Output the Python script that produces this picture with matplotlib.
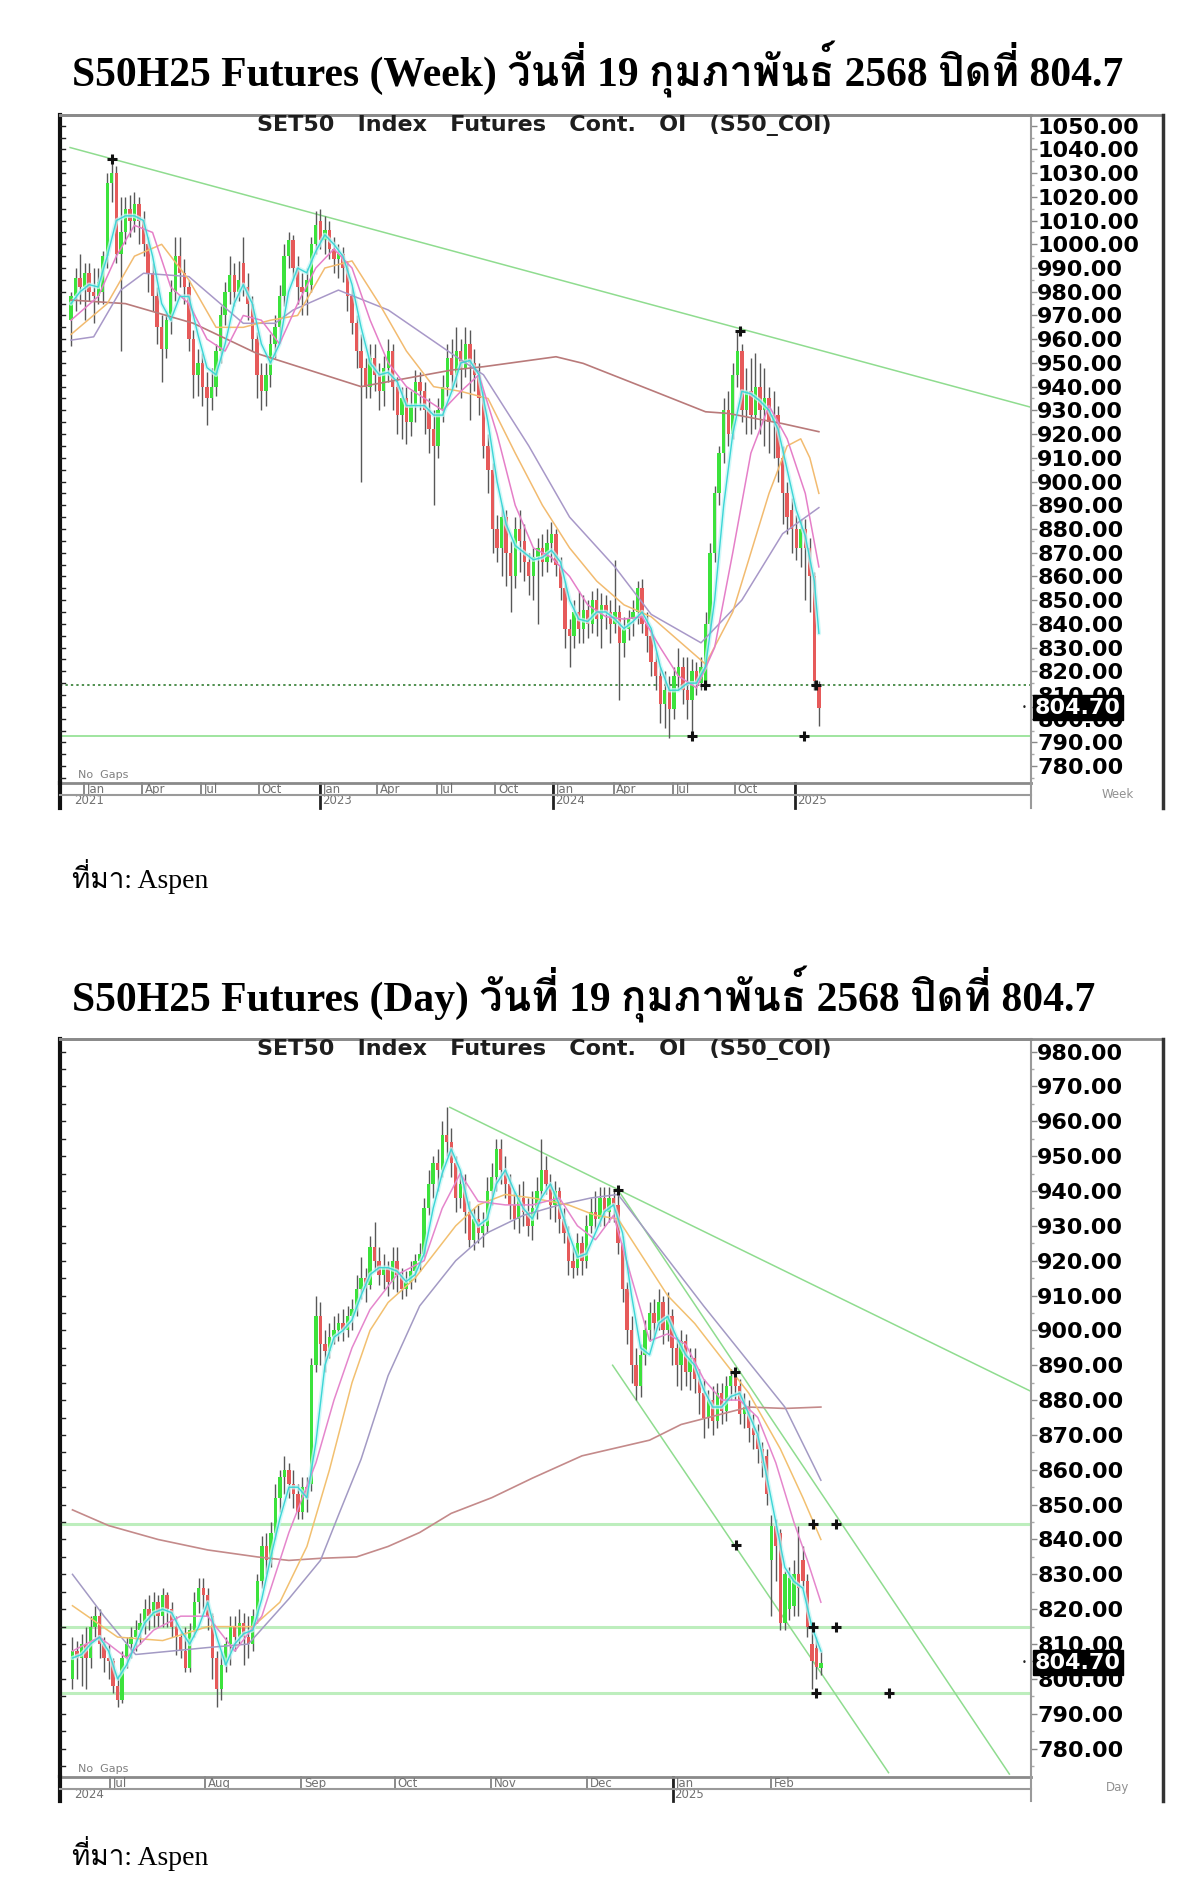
import matplotlib
matplotlib.use("Agg")
import matplotlib.pyplot as plt
from matplotlib import font_manager
from matplotlib.lines import Line2D
from matplotlib.ticker import MultipleLocator
from matplotlib.transforms import blended_transform_factory as blend
import numpy as np

# ======================= DATA =======================
TITLE_WEEK = "S50H25 Futures (Week) วันที่ 19 กุมภาพันธ์ 2568 ปิดที่ 804.7"
TITLE_DAY = "S50H25 Futures (Day) วันที่ 19 กุมภาพันธ์ 2568 ปิดที่ 804.7"
SOURCE = "ที่มา: Aspen"
INNER_TITLE = "SET50   Index   Futures   Cont.   OI   (S50_COI)"
LAST_PRICE = 804.70

# ---- weekly candles (index 0..165) ----
W_OPEN = [968, 978, 986, 982, 988, 980, 978, 980, 995, 1026,
          1030, 996, 1005, 1015, 1010, 1017, 1010, 1000, 988, 978,
          965, 956, 968, 980, 995, 988, 982, 960, 945, 950,
          940, 935, 940, 955, 970, 980, 987, 980, 992, 982,
          975, 960, 945, 938, 945, 958, 965, 978, 995, 1002,
          990, 982, 980, 983, 1000, 1010, 1002, 1006, 998, 994,
          996, 990, 978, 967, 955, 948, 940, 952, 945, 938,
          948, 955, 940, 928, 935, 925, 932, 942, 938, 930,
          922, 915, 930, 940, 952, 945, 955, 948, 958, 950,
          945, 935, 915, 905, 880, 872, 885, 870, 860, 880,
          875, 866, 860, 868, 872, 866, 874, 878, 865, 855,
          838, 835, 845, 838, 846, 840, 850, 842, 848, 845,
          840, 845, 832, 838, 842, 845, 855, 840, 835, 824,
          818, 806, 812, 804, 818, 822, 812, 808, 820, 815,
          816, 840, 870, 895, 912, 930, 920, 945, 955, 930,
          938, 928, 940, 930, 935, 925, 928, 910, 895, 888,
          880, 872, 880, 872, 860, 814]
W_HIGH = [980, 990, 996, 992, 992, 990, 990, 997, 1030, 1036,
          1033, 1020, 1020, 1021, 1022, 1020, 1014, 1003, 992, 982,
          970, 972, 985, 1003, 1003, 994, 985, 964, 956, 954,
          946, 948, 958, 974, 984, 995, 992, 993, 1003, 988,
          978, 963, 950, 950, 962, 970, 983, 1000, 1005, 1004,
          995, 988, 990, 1003, 1014, 1015, 1012, 1010, 1003, 1000,
          999, 993, 982, 970, 962, 952, 958, 958, 950, 953,
          960, 958, 944, 940, 940, 938, 947, 946, 942, 935,
          930, 935, 945, 958, 960, 965, 960, 965, 964, 956,
          950, 938, 920, 908, 886, 890, 888, 875, 885, 888,
          882, 870, 872, 876, 878, 880, 883, 880, 868, 858,
          842, 850, 854, 852, 850, 854, 855, 853, 852, 850,
          867, 848, 843, 846, 850, 858, 859, 845, 838, 828,
          822, 820, 818, 822, 830, 826, 826, 825, 824, 826,
          845, 874, 898, 915, 935, 938, 950, 963.5, 958, 948,
          952, 954, 950, 948, 940, 938, 932, 915, 900, 893,
          886, 884, 884, 876, 862, 816]
W_LOW = [957, 972, 975, 968, 976, 967, 975, 975, 990, 1018,
         992, 955, 1000, 1003, 1005, 1000, 995, 980, 972, 958,
         942, 952, 962, 976, 982, 975, 955, 935, 936, 932,
         924, 930, 936, 950, 966, 975, 974, 976, 978, 968,
         955, 935, 930, 932, 940, 952, 960, 974, 990, 985,
         975, 970, 970, 980, 996, 998, 996, 994, 988, 986,
         984, 972, 962, 948, 900, 935, 935, 938, 930, 932,
         942, 930, 920, 918, 916, 919, 925, 930, 920, 912,
         890, 910, 925, 936, 938, 940, 935, 944, 926, 938,
         928, 910, 895, 870, 866, 860, 856, 845, 855, 862,
         858, 852, 850, 840, 860, 862, 866, 860, 850, 830,
         822, 830, 832, 832, 834, 836, 835, 830, 838, 832,
         836, 808, 826, 833, 835, 840, 836, 828, 818, 812,
         798, 796, 792, 800, 812, 806, 800, 793, 810, 812,
         814, 836, 866, 890, 908, 915, 918, 940, 925, 920,
         920, 922, 920, 915, 912, 910, 900, 882, 878, 870,
         867, 864, 850, 845, 812, 797]
W_CLOSE = [978, 986, 982, 988, 980, 978, 984, 995, 1026, 1030,
           996, 1005, 1015, 1010, 1017, 1010, 1000, 988, 978, 965,
           956, 968, 980, 995, 988, 982, 960, 945, 950, 940,
           935, 940, 955, 970, 980, 987, 980, 985, 982, 975,
           960, 945, 938, 945, 958, 965, 978, 995, 1002, 990,
           982, 980, 985, 1000, 1008, 1002, 1006, 998, 994, 996,
           990, 978, 967, 955, 948, 940, 952, 945, 938, 948,
           955, 940, 928, 935, 925, 932, 942, 938, 930, 922,
           915, 930, 940, 952, 945, 955, 948, 958, 950, 945,
           935, 915, 905, 880, 872, 885, 870, 860, 880, 875,
           866, 860, 868, 872, 866, 874, 878, 865, 855, 838,
           835, 845, 838, 846, 840, 850, 842, 848, 845, 840,
           845, 832, 838, 842, 845, 855, 840, 835, 824, 818,
           806, 812, 804, 818, 822, 812, 808, 820, 815, 822,
           840, 870, 895, 912, 930, 920, 945, 955, 930, 938,
           928, 940, 930, 935, 925, 928, 910, 895, 885, 880,
           872, 880, 872, 860, 816, 804.7]

# weekly moving averages (read at sampled candle positions)
W_CYAN_X = [0, 2, 4, 6, 8, 10, 12, 14, 16, 18, 20, 22, 24, 26, 28, 30, 32, 34, 36, 38, 40,
            42, 44, 46, 48, 50, 52, 54, 56, 58, 60, 62, 64, 66, 68, 70, 72, 74, 76, 78, 80,
            82, 84, 86, 88, 90, 92, 94, 96, 98, 100, 102, 104, 106, 108, 110, 112, 114, 116,
            118, 120, 122, 124, 126, 128, 130, 132, 134, 136, 138, 140, 142, 144, 146, 148,
            150, 152, 154, 156, 158, 160, 162, 164, 165]
W_CYAN_Y = [975, 980, 983, 982, 995, 1010, 1012, 1012, 1010, 995, 975, 968, 978, 978, 962,
            948, 945, 958, 975, 983, 975, 958, 950, 958, 980, 990, 988, 997, 1004, 1000, 995,
            983, 965, 950, 945, 946, 942, 932, 932, 932, 928, 928, 938, 950, 951, 945, 925,
            900, 882, 873, 870, 867, 868, 871, 866, 850, 842, 841, 845, 845, 842, 838, 841,
            845, 838, 822, 812, 812, 815, 815, 822, 850, 890, 920, 938, 937, 934, 930, 922,
            905, 888, 877, 858, 836]
W_PINK_X = [0, 6, 10, 14, 18, 22, 26, 30, 34, 38, 42, 46, 50, 54, 58, 62, 66, 70, 74, 78,
            82, 86, 90, 94, 98, 102, 106, 110, 114, 118, 122, 126, 130, 134, 138, 142, 146,
            150, 154, 158, 162, 165]
W_PINK_Y = [968, 978, 995, 1008, 1005, 982, 975, 960, 955, 970, 968, 958, 975, 990, 998,
            990, 968, 950, 940, 935, 930, 938, 945, 920, 890, 872, 868, 860, 848, 843, 842,
            843, 830, 818, 813, 830, 870, 912, 932, 918, 895, 864]
W_ORANGE_X = [0, 8, 14, 20, 26, 32, 38, 44, 50, 56, 62, 68, 74, 80, 86, 92, 98, 104, 110,
              116, 122, 128, 134, 140, 146, 150, 154, 158, 161, 163, 165]
W_ORANGE_Y = [962, 975, 995, 1000, 985, 965, 965, 968, 970, 990, 993, 975, 955, 940, 938,
              935, 912, 890, 872, 858, 848, 843, 833, 823, 845, 870, 895, 915, 918, 910, 895]
W_PURPLE_X = [0, 5, 11, 16, 26, 38, 45, 49, 59, 70, 85, 91, 101, 110, 120, 128, 139, 148,
              157, 165]
W_PURPLE_Y = [959.6, 961, 980.7, 987.8, 986.4, 966.7, 966.7, 972.3, 980.7, 972.3, 952.6,
              945, 915, 885, 864, 844, 832, 850, 878, 889]
W_BROWN_X = [0, 12, 27, 41, 64, 84, 91, 107, 113, 128, 140, 145, 157, 165]
W_BROWN_Y = [976.5, 975, 966.7, 954, 940, 947, 948.4, 952.6, 949.8, 938.5, 929.4, 928.7,
             924.4, 921]

W_TREND_X = [-0.2, 211.8]
W_TREND_Y = [1040.8, 931.3]
W_DOTTED_LEVEL = 814.2
W_SUPPORT_LEVEL = 792.7
W_MARK_X = [9.1, 147.6, 136.9, 161.7, 139.9, 164.3]
W_MARK_Y = [1036, 963.4, 792.7, 792.7, 814.2, 814.2]

W_TICK_POS = [2.9, 15.7, 28.7, 41.5, 54.9, 67.5, 80.7, 93.6, 106.4, 119.7, 132.8, 146.5, 159.8]
W_TICK_LAB = ["Jan", "Apr", "Jul", "Oct", "Jan", "Apr", "Jul", "Oct", "Jan", "Apr", "Jul", "Oct", ""]
W_YEAR_POS = [0.2, 54.9, 106.4, 159.8]
W_YEAR_LAB = ["2021", "2023", "2024", "2025"]
W_YTICKS = list(range(780, 1051, 10))

# ---- daily candles (index 0..166) ----
D_OPEN = [800, 808, 806, 810, 806, 815, 818, 810, 806, 805,
          798, 794, 806, 810, 812, 814, 816, 820, 818, 822,
          818, 824, 820, 815, 812, 808, 803, 814, 822, 826,
          824, 818, 806, 797, 804, 810, 815, 812, 816, 812,
          810, 818, 828, 838, 834, 842, 852, 858, 860, 856,
          853, 848, 855, 856, 890, 904, 896, 894, 898, 900,
          902, 900, 904, 906, 912, 915, 913, 924, 920, 916,
          918, 914, 920, 916, 912, 914, 917, 920, 922, 935,
          942, 948, 946, 956, 954, 948, 938, 942, 934, 926,
          932, 928, 930, 940, 944, 952, 946, 942, 936, 932,
          938, 934, 930, 935, 940, 946, 942, 936, 940, 932,
          928, 920, 918, 925, 920, 930, 934, 932, 938, 934,
          938, 936, 925, 912, 900, 890, 884, 893, 900, 905,
          902, 908, 900, 904, 895, 890, 897, 888, 892, 886,
          882, 875, 880, 874, 882, 877, 884, 887, 884, 876,
          878, 872, 870, 866, 864, 834, 844, 842, 816, 820,
          821, 830, 834, 828, 810, 809, 803]
D_HIGH = [812, 811, 813, 815, 818, 821, 820, 812, 810, 806,
          801, 808, 812, 815, 817, 819, 823, 824, 825, 824,
          826, 825, 822, 818, 814, 815, 816, 825, 829, 829,
          826, 819, 808, 808, 812, 818, 818, 820, 819, 818,
          820, 830, 841, 842, 845, 856, 860, 864, 862, 860,
          856, 858, 858, 892, 910, 908, 900, 902, 904, 905,
          906, 907, 909, 916, 921, 918, 927, 931, 924, 922,
          920, 924, 924, 918, 917, 920, 922, 925, 938, 946,
          950, 952, 960, 964, 958, 950, 946, 945, 937, 935,
          936, 934, 944, 948, 955, 955, 950, 945, 940, 942,
          943, 938, 940, 944, 955, 950, 945, 943, 941, 935,
          930, 924, 928, 927, 933, 938, 940, 941, 941, 941,
          940, 940, 927, 914, 904, 895, 896, 903, 908, 909,
          912, 910, 911, 906, 898, 900, 899, 895, 895, 889,
          886, 883, 884, 885, 885, 887, 889, 888.5, 886, 882,
          880, 876, 873, 868, 866, 847, 846, 843, 831, 832,
          834, 844, 838, 830, 815, 812, 808]
D_LOW = [797, 800, 798, 797, 803, 812, 806, 802, 800, 796,
         792, 793, 803, 806, 808, 810, 813, 814, 815, 815,
         815, 815, 812, 807, 806, 802, 802, 812, 819, 820,
         814, 800, 792, 794, 802, 804, 808, 810, 804, 806,
         808, 816, 826, 830, 832, 840, 848, 853, 852, 849,
         846, 846, 848, 854, 888, 890, 888, 892, 896, 897,
         897, 898, 900, 904, 909, 908, 912, 917, 913, 912,
         910, 912, 911, 909, 910, 912, 914, 917, 921, 933,
         938, 940, 944, 950, 944, 934, 935, 928, 924, 923,
         925, 924, 928, 936, 940, 942, 938, 932, 929, 928,
         930, 927, 926, 932, 938, 939, 932, 931, 928, 925,
         916, 915, 916, 916, 918, 928, 929, 930, 930, 931,
         931, 922, 908, 896, 885, 880, 881, 890, 897, 898,
         900, 896, 897, 890, 884, 883, 884, 883, 882, 876,
         869, 872, 870, 872, 873, 874, 880, 880, 873, 872,
         868, 866, 862, 858, 850, 818, 828, 814, 814, 817,
         818, 818, 826, 812, 797, 800, 801]
D_CLOSE = [808, 806, 810, 806, 815, 818, 810, 806, 805, 798,
           794, 806, 810, 812, 814, 816, 820, 818, 822, 818,
           824, 820, 815, 812, 808, 803, 814, 822, 826, 824,
           818, 806, 797, 804, 810, 815, 812, 816, 812, 810,
           818, 828, 838, 834, 842, 852, 858, 860, 856, 853,
           848, 855, 852, 890, 904, 896, 894, 898, 900, 902,
           900, 904, 906, 912, 915, 913, 924, 920, 916, 918,
           914, 920, 916, 912, 914, 917, 920, 922, 935, 942,
           948, 946, 956, 954, 948, 938, 942, 934, 926, 932,
           928, 930, 940, 944, 952, 946, 942, 936, 932, 938,
           934, 930, 935, 940, 946, 942, 936, 940, 932, 928,
           920, 918, 925, 920, 930, 934, 932, 938, 934, 938,
           936, 925, 912, 900, 890, 884, 893, 900, 905, 902,
           908, 900, 904, 895, 890, 897, 888, 892, 886, 882,
           875, 880, 874, 882, 877, 884, 887, 884, 876, 878,
           872, 870, 866, 862, 853, 844, 838, 816, 830, 829,
           830, 826, 828, 815, 805, 803.5, 804.7]

D_CYAN_X = list(range(0, 167, 2))
D_CYAN_Y = [806, 807, 810, 812, 808, 800, 804, 810, 816, 819, 820, 819, 814, 810, 815, 822,
            812, 804, 810, 813, 814, 823, 835, 846, 855, 855, 852, 868, 890, 898, 900, 903,
            910, 916, 918, 918, 917, 914, 916, 922, 935, 945, 952, 946, 935, 930, 932, 942,
            946, 940, 935, 932, 938, 942, 936, 928, 921, 922, 928, 934, 936, 928, 910, 895,
            893, 902, 904, 898, 893, 890, 883, 878, 878, 881, 882, 876, 870, 858, 845, 832,
            828, 826, 815, 808]
D_PINK_X = [0, 6, 12, 18, 24, 30, 36, 42, 48, 54, 58, 62, 66, 72, 78, 82, 86, 90, 96, 102,
            108, 112, 116, 120, 124, 128, 132, 136, 140, 144, 148, 152, 156, 160, 163, 166]
D_PINK_Y = [808, 812, 806, 814, 818, 818, 808, 818, 842, 862, 880, 895, 906, 916, 920, 935,
            945, 937, 936, 936, 938, 930, 926, 933, 915, 897, 899, 896, 886, 880, 880, 875,
            862, 845, 834, 822]
D_ORANGE_X = [0, 10, 20, 30, 40, 46, 52, 57, 62, 66, 70, 76, 85, 90, 96, 102, 110, 116, 121,
              126, 132, 138, 144, 150, 157, 162, 166]
D_ORANGE_Y = [821, 812, 811, 815, 815, 822, 838, 860, 885, 900, 908, 915, 930, 936, 939, 938,
              936, 933, 932, 922, 910, 902, 892, 882, 866, 852, 840]
D_PURPLE_X = [0, 7, 14, 22, 30, 39, 48, 55, 59, 64, 70, 77, 85, 92, 100, 108, 115, 121, 140,
              158, 166]
D_PURPLE_Y = [830, 818, 807, 808, 809, 810, 823, 834, 847, 863, 887, 907, 920, 928, 933, 936,
              938, 939, 907, 878, 857]
D_BROWN_X = [0, 8, 19, 30, 41, 48, 55, 63, 70, 77, 84, 93, 102, 113, 128, 135, 150, 158, 166]
D_BROWN_Y = [848.5, 844, 840, 837, 835, 834, 834.6, 835, 838, 842, 847.5, 852, 857.6, 864,
             868.5, 873, 878, 877.6, 878]

D_TREND_A_X = [83.7, 212.6]
D_TREND_A_Y = [964.0, 882.5]
D_TREND_B_X = [121.0, 207.8]
D_TREND_B_Y = [940.3, 772.7]
D_TREND_C_X = [119.8, 181.0]
D_TREND_C_Y = [890.0, 773.1]
D_LEVELS = [844.5, 815.0, 796.0]
D_MARK_X = [121.0, 146.9, 147.2, 164.3, 169.3, 164.3, 169.3, 165.0, 181.0]
D_MARK_Y = [940.3, 888.1, 838.4, 844.5, 844.5, 815.0, 815.0, 795.9, 796.0]

D_TICK_POS = [8.4, 29.4, 50.7, 71.5, 92.8, 114.1, 133.1, 154.9]
D_TICK_LAB = ["Jul", "Aug", "Sep", "Oct", "Nov", "Dec", "Jan", "Feb"]
D_YEAR_POS = [0.0, 133.1]
D_YEAR_LAB = ["2024", "2025"]
D_YTICKS = list(range(780, 981, 10))

# ======================= FONTS =======================
def thai_families():
    try:
        from fontTools.ttLib import TTFont
    except Exception:
        return []
    need = [ord(ch) for ch in "วันที่กุมภาพันธ์ปิดมา"]
    found, seen = [], set()
    for fe in font_manager.fontManager.ttflist:
        if fe.fname in seen:
            continue
        seen.add(fe.fname)
        try:
            tt = TTFont(fe.fname, fontNumber=0, lazy=True)
            cm = tt.getBestCmap()
            tt.close()
        except Exception:
            continue
        if cm and all(n in cm for n in need) and fe.name not in found:
            found.append(fe.name)
    found.sort(key=lambda n: 0 if ("Serif" in n or "Loma" in n or "Norasi" in n) else 1)
    return found

THAI = thai_families()
TITLE_FAM = ["Liberation Serif"] + THAI + ["DejaVu Sans"]
plt.rcParams["font.family"] = ["DejaVu Sans"]

# ======================= FIGURE =======================
W, H = 1200, 1894
fig = plt.figure(figsize=(W / 100, H / 100), dpi=100)
fig.patch.set_facecolor("white")


def fx(px):
    return px / W


def fy(py):
    return 1 - py / H


def fline(x0, y0, x1, y1, **kw):
    fig.add_artist(Line2D([fx(x0), fx(x1)], [fy(y0), fy(y1)], transform=fig.transFigure, **kw))


def draw_chart(g, o, h, l, c, mas, yticks, tick_pos, tick_lab, year_pos, year_lab,
               year_ticks, period_label):
    left, right, pr = g["left"], g["right"], g["plot_right"]
    top, pb, bb, fb = g["top"], g["plot_bottom"], g["band_bottom"], g["frame_bottom"]
    ax = fig.add_axes([fx(left), fy(pb), fx(pr) - fx(left), (pb - top) / H])
    ax.set_xlim(*g["xlim"])
    ax.set_ylim(*g["ylim"])
    ax.set_facecolor("white")

    # candles
    x = np.arange(len(c))
    o_, h_, l_, c_ = map(np.asarray, (o, h, l, c))
    ax.vlines(x, l_, h_, color="#585858", lw=1.0, zorder=3)
    up = c_ >= o_
    ax.bar(x[up], (c_ - o_)[up], bottom=o_[up], width=0.74, color="#3ce23c", lw=0, zorder=4)
    ax.bar(x[~up], (o_ - c_)[~up], bottom=c_[~up], width=0.74, color="#e65a5a", lw=0, zorder=4)

    # moving averages
    for (mx, my, col, lw, glow) in mas:
        if glow:
            ax.plot(mx, my, color="#c4f6f6", lw=3.2, alpha=0.75, zorder=5,
                    solid_capstyle="round")
        ax.plot(mx, my, color=col, lw=lw, zorder=6)

    # axis styling
    ax.yaxis.tick_right()
    ax.set_yticks(yticks)
    ax.set_yticklabels([f"{v:.2f}" for v in yticks], fontsize=16, fontweight="bold",
                       family="DejaVu Sans")
    ax.yaxis.set_minor_locator(MultipleLocator(5))
    ax.tick_params(axis="y", which="major", direction="out", length=4, width=1,
                   color="#888888", pad=0.5)
    ax.tick_params(axis="y", which="minor", direction="out", length=2, width=1, color="#aaaaaa")
    ax.tick_params(axis="x", bottom=False, labelbottom=False)
    ax.spines["left"].set(lw=3, color="#111111")
    ax.spines["top"].set(lw=2, color="#8a8a8a")
    ax.spines["right"].set(lw=1.5, color="#9a9a9a")
    ax.spines["bottom"].set(lw=2, color="#8a8a8a")
    # small inward ticks on the left border
    tl = blend(ax.transAxes, ax.transData)
    for v in np.arange(np.ceil(g["ylim"][0] / 5) * 5, g["ylim"][1], 5):
        ax.add_line(Line2D([0, 0.005], [v, v], transform=tl, color="#222222", lw=1, zorder=7))

    # last price box
    tb = blend(fig.transFigure, ax.transData)
    ax.text(fx(1035), LAST_PRICE, "804.70", transform=tb, ha="left", va="center",
            fontsize=16, fontweight="bold", color="white", family="DejaVu Sans",
            bbox=dict(boxstyle="square,pad=0.1", fc="black", ec="black"), zorder=20,
            clip_on=False)
    ax.text(fx(pr - 7), LAST_PRICE, "•", transform=tb, ha="center", va="center",
            fontsize=6, color="#222222", clip_on=False)

    # frame pieces outside plot
    fline(left, top, right, top, color="#8a8a8a", lw=2)
    fline(right, top, right, fb, color="#333333", lw=2.5)
    fline(pr, pb, pr, fb, color="#9a9a9a", lw=1.5)
    fline(left, pb, left, fb, color="#111111", lw=3)
    fline(left, bb, pr, bb, color="#9a9a9a", lw=1.5)

    # date band
    bt = blend(ax.transData, fig.transFigure)
    for p, lab in zip(tick_pos, tick_lab):
        ax.add_line(Line2D([p, p], [fy(pb), fy(bb)], transform=bt, color="#777777", lw=1.2,
                           clip_on=False))
        if lab:
            ax.text(p + 0.6, fy((pb + bb) / 2 + 0.5), lab, transform=bt, fontsize=8.5,
                    color="#707070", ha="left", va="center", clip_on=False)
    for p in year_ticks:
        ax.add_line(Line2D([p, p], [fy(pb), fy(fb)], transform=bt, color="#222222", lw=2,
                           clip_on=False))
    for p, lab in zip(year_pos, year_lab):
        ax.text(p + 0.4, fy(bb + 6), lab, transform=bt, fontsize=8.5, color="#707070",
                ha="left", va="center", clip_on=False)

    fig.text(fx(544), fy(top + 11), INNER_TITLE, fontsize=16, fontweight="bold",
             color="#1e1e1e", ha="center", va="center", family="DejaVu Sans")
    fig.text(fx(78), fy(pb - 8), "No  Gaps", fontsize=8, color="#808080", ha="left",
             va="center")
    fig.text(fx(1118), fy(bb - 1), period_label, fontsize=8.5, color="#909090", ha="center",
             va="center")
    return ax


# ---------- weekly ----------
gw = dict(left=60.4, right=1162.6, plot_right=1031, top=114.8, plot_bottom=783,
          band_bottom=795, frame_bottom=808, xlim=(-2.34, 211.8), ylim=(772.9, 1054.6))
w_mas = [
    (W_BROWN_X, W_BROWN_Y, "#b97a7a", 1.2, False),
    (W_PURPLE_X, W_PURPLE_Y, "#a898c8", 1.1, False),
    (W_ORANGE_X, W_ORANGE_Y, "#f2bb70", 1.1, False),
    (W_PINK_X, W_PINK_Y, "#e57fc8", 1.1, False),
    (W_CYAN_X, W_CYAN_Y, "#3cd6d6", 1.0, True),
]
axw = draw_chart(gw, W_OPEN, W_HIGH, W_LOW, W_CLOSE, w_mas, W_YTICKS, W_TICK_POS,
                 W_TICK_LAB, W_YEAR_POS, W_YEAR_LAB, [54.9, 106.4, 159.8], "Week")
axw.plot(W_TREND_X, W_TREND_Y, color="#8fdc8f", lw=1.1, zorder=2)
axw.axhline(W_DOTTED_LEVEL, color="#4f8f4f", lw=1.4, ls=(0, (1.2, 1.6)), zorder=2)
axw.axhline(W_SUPPORT_LEVEL, color="#8fe08f", lw=1.2, zorder=2)
axw.plot(W_MARK_X, W_MARK_Y, ls="none", marker="+", ms=7, mew=2.2, color="#111111", zorder=9)

# ---------- daily ----------
gd = dict(left=60.4, right=1162.6, plot_right=1031, top=1039, plot_bottom=1776.5,
          band_bottom=1788.5, frame_bottom=1801, xlim=(-2.68, 212.6), ylim=(772.0, 983.6))
d_mas = [
    (D_BROWN_X, D_BROWN_Y, "#c48a8a", 1.2, False),
    (D_PURPLE_X, D_PURPLE_Y, "#a39ac4", 1.1, False),
    (D_ORANGE_X, D_ORANGE_Y, "#f2c070", 1.1, False),
    (D_PINK_X, D_PINK_Y, "#e586cc", 1.1, False),
    (D_CYAN_X, D_CYAN_Y, "#3cd6d6", 1.0, True),
]
axd = draw_chart(gd, D_OPEN, D_HIGH, D_LOW, D_CLOSE, d_mas, D_YTICKS, D_TICK_POS,
                 D_TICK_LAB, D_YEAR_POS, D_YEAR_LAB, [133.1], "Day")
for lv in D_LEVELS:
    axd.axhline(lv, color="#bdeebd", lw=2.2, zorder=1)
for tx, ty in ((D_TREND_A_X, D_TREND_A_Y), (D_TREND_B_X, D_TREND_B_Y), (D_TREND_C_X, D_TREND_C_Y)):
    axd.plot(tx, ty, color="#8fdc8f", lw=1.1, zorder=2)
axd.plot(D_MARK_X, D_MARK_Y, ls="none", marker="+", ms=7, mew=2.2, color="#111111", zorder=9)

# ---------- titles & source ----------
for yb, t in ((87, TITLE_WEEK), (1011.5, TITLE_DAY)):
    fig.text(fx(72), fy(yb), t, fontsize=30, fontweight="bold", family=TITLE_FAM,
             ha="left", va="baseline", color="black")
for yb in (888, 1865):
    fig.text(fx(72), fy(yb), SOURCE, fontsize=20,
             family=["Liberation Serif"] + THAI + ["DejaVu Sans"],
             ha="left", va="baseline", color="black")

fig.savefig("out.png", dpi=100, facecolor="white")
